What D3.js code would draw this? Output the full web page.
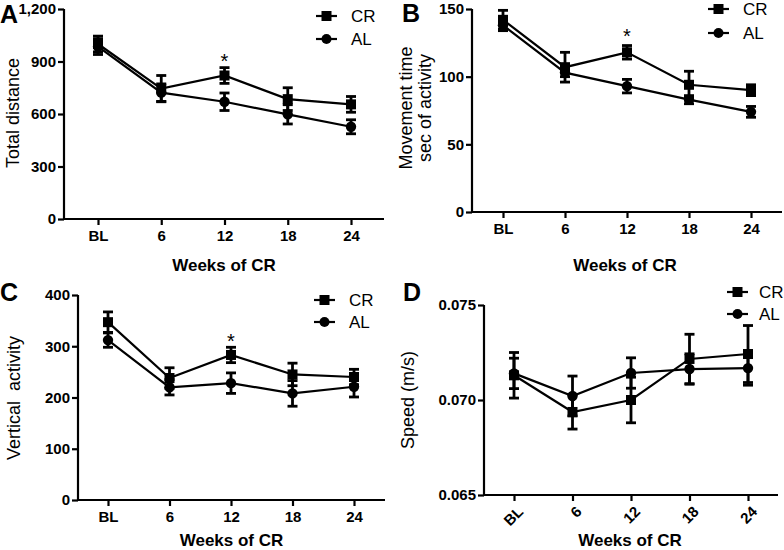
<!DOCTYPE html>
<html><head><meta charset="utf-8">
<script src="https://cdn.jsdelivr.net/npm/d3@7"></script>
<style>body{margin:0;background:#fff}svg{display:block}text{font-family:"Liberation Sans",Arial,sans-serif}</style>
</head><body>
<svg id="c" width="784" height="550"></svg>
<script>
const weeks = ["BL","6","12","18","24"];
const seriesNames = ["CR","AL"];
// Panel A: Total distance
const aCR = [1000, 745, 820, 685, 655];
const aCRerr = [45, 75, 45, 65, 45];
const aAL = [985, 722, 670, 598, 527];
const aALerr = [45, 50, 50, 55, 40];
const aTicks = [0, 300, 600, 900, 1200];
// Panel B: Movement time
const bCR = [142, 107, 118, 94, 90];
const bCRerr = [7, 11, 5, 10, 4];
const bAL = [138, 103, 93, 83, 74];
const bALerr = [4, 3, 5, 3, 4];
const bTicks = [0, 50, 100, 150];
// Panel C: Vertical activity
const cCR = [347, 238, 283, 245, 240];
const cCRerr = [20, 20, 15, 22, 15];
const cAL = [312, 220, 228, 208, 221];
const cALerr = [14, 15, 20, 25, 20];
const cTicks = [0, 100, 200, 300, 400];
// Panel D: Speed
const dCR = [0.0713, 0.06937, 0.0700, 0.07216, 0.07242];
const dCRerr = [0.0012, 0.0009, 0.0012, 0.0013, 0.0015];
const dAL = [0.0714, 0.07021, 0.07142, 0.07163, 0.07168];
const dALerr = [0.0008, 0.00105, 0.0008, 0.0008, 0.0009];
const dTicks = [0.065, 0.070, 0.075];

const svg = d3.select("#c");

function panel(o){
  const g = svg.append("g");
  const x = d3.scalePoint().domain(weeks).range([o.x0 + o.padL, o.x1 - o.padR]);
  const y = d3.scaleLinear().domain(o.dom).range([o.y0, o.y1]);
  const ya = d3.axisLeft(y).tickValues(o.ticks).tickSize(6).tickPadding(2).tickFormat(o.fmt);
  const yg = g.append("g").attr("transform",`translate(${o.x0},0)`).call(ya);
  yg.select(".domain").attr("d",`M-0,${o.y1}V${o.y0}`);
  const xa = d3.axisBottom(x).tickSize(6).tickPadding(5);
  const xg = g.append("g").attr("transform",`translate(0,${o.y0})`).call(xa);
  xg.select(".domain").attr("d",`M${o.x0},0H${o.x1}`);
  [yg,xg].forEach(a=>{
    a.selectAll("path,line").attr("stroke","#000").attr("stroke-width",2.2);
    a.selectAll("text").attr("fill","#000").style("font-size","15px").style("font-weight","bold");
  });
  if(o.rot){
    xg.selectAll("text").attr("text-anchor","end").attr("x",0).attr("y",0).attr("dy","0.35em")
      .attr("transform","translate(6,14) rotate(-45)");
  }
  g.append("text").attr("x",(o.x0+o.x1)/2 + (o.xtOff||0)).attr("y",o.xtY).attr("text-anchor","middle")
    .style("font-size","17px").style("font-weight","bold").text("Weeks of CR");
  o.ylab.forEach((t,i)=>{
    g.append("text").attr("transform",`translate(${o.ylabX[i]},${o.ylabY}) rotate(-90)`)
      .attr("text-anchor","middle").style("font-size","18px").style("white-space","pre").text(t);
  });
  g.append("text").attr("x",o.lx).attr("y",o.ly).style("font-size","25px").style("font-weight","bold").text(o.letter);
  const series = [
    {name:seriesNames[0], v:o.cr, e:o.crE, shape:"square"},
    {name:seriesNames[1], v:o.al, e:o.alE, shape:"circle"}
  ];
  const line = d3.line().x((d,i)=>x(weeks[i])).y(d=>y(d));
  series.forEach(s=>{
    g.append("path").attr("d",line(s.v)).attr("fill","none").attr("stroke","#000").attr("stroke-width",2.2);
    s.v.forEach((v,i)=>{
      const cx = x(weeks[i]);
      const hi = y(v + s.e[i]), lo = y(v - s.e[i]);
      g.append("line").attr("x1",cx).attr("x2",cx).attr("y1",hi).attr("y2",lo).attr("stroke","#000").attr("stroke-width",2.8);
      [hi,lo].forEach(yy=>g.append("line").attr("x1",cx-5).attr("x2",cx+5).attr("y1",yy).attr("y2",yy).attr("stroke","#000").attr("stroke-width",2.8));
      if(s.shape==="square") g.append("rect").attr("x",cx-5).attr("y",y(v)-5).attr("width",10).attr("height",10).attr("fill","#000");
      else g.append("circle").attr("cx",cx).attr("cy",y(v)).attr("r",5.2).attr("fill","#000");
    });
  });
  if(o.star!=null){
    g.append("text").attr("x",x(weeks[o.star])).attr("y",o.starY).attr("text-anchor","middle")
      .attr("fill","#000").style("font-size","20px").text("*");
  }
  series.forEach((s,i)=>{
    const yy = o.legY + i*o.legGap;
    g.append("line").attr("x1",o.legX).attr("x2",o.legX+21).attr("y1",yy).attr("y2",yy).attr("stroke","#000").attr("stroke-width",2.2);
    if(s.shape==="square") g.append("rect").attr("x",o.legX+5.5).attr("y",yy-5).attr("width",10).attr("height",10).attr("fill","#000");
    else g.append("circle").attr("cx",o.legX+10.5).attr("cy",yy).attr("r",5).attr("fill","#000");
    g.append("text").attr("x",o.legX+(o.legTx||35)).attr("y",yy+6).style("font-size","17px").text(s.name);
  });
}

panel({letter:"A", lx:0, ly:23, x0:64, x1:384, padL:34, padR:33, y0:219, y1:9, dom:[0,1200], ticks:aTicks,
  fmt:d3.format(","), cr:aCR, crE:aCRerr, al:aAL, alE:aALerr, xtY:271, ylab:["Total distance"], ylabX:[19], ylabY:113,
  star:2, starY:68, legX:316, legY:16, legGap:23});
panel({letter:"B", lx:402, ly:22, x0:472, x1:782, padL:31, padR:31, y0:212, y1:9, dom:[0,150], ticks:bTicks,
  fmt:d3.format("d"), cr:bCR, crE:bCRerr, al:bAL, alE:bALerr, xtY:271, xtOff:-2, ylab:["Movement time","sec of activity"], ylabX:[412,431], ylabY:108,
  star:2, starY:43, legX:708, legY:9, legGap:24});
panel({letter:"C", lx:0, ly:301, x0:78, x1:385, padL:30, padR:31, y0:500, y1:295, dom:[0,400], ticks:cTicks,
  fmt:d3.format("d"), cr:cCR, crE:cCRerr, al:cAL, alE:cALerr, xtY:546, ylab:["Vertical  activity"], ylabX:[20], ylabY:398,
  star:2, starY:348, legX:314, legY:300, legGap:22});
panel({letter:"D", lx:403, ly:301, x0:484, x1:778, padL:30, padR:30, y0:495, y1:305, dom:[0.065,0.075], ticks:dTicks,
  fmt:d3.format(".3f"), cr:dCR, crE:dCRerr, al:dAL, alE:dALerr, xtY:546, xtOff:-1, ylab:["Speed (m/s)"], ylabX:[414], ylabY:400,
  star:null, legX:727, legY:292, legGap:22, legTx:32, rot:true});
</script>
</body></html>
